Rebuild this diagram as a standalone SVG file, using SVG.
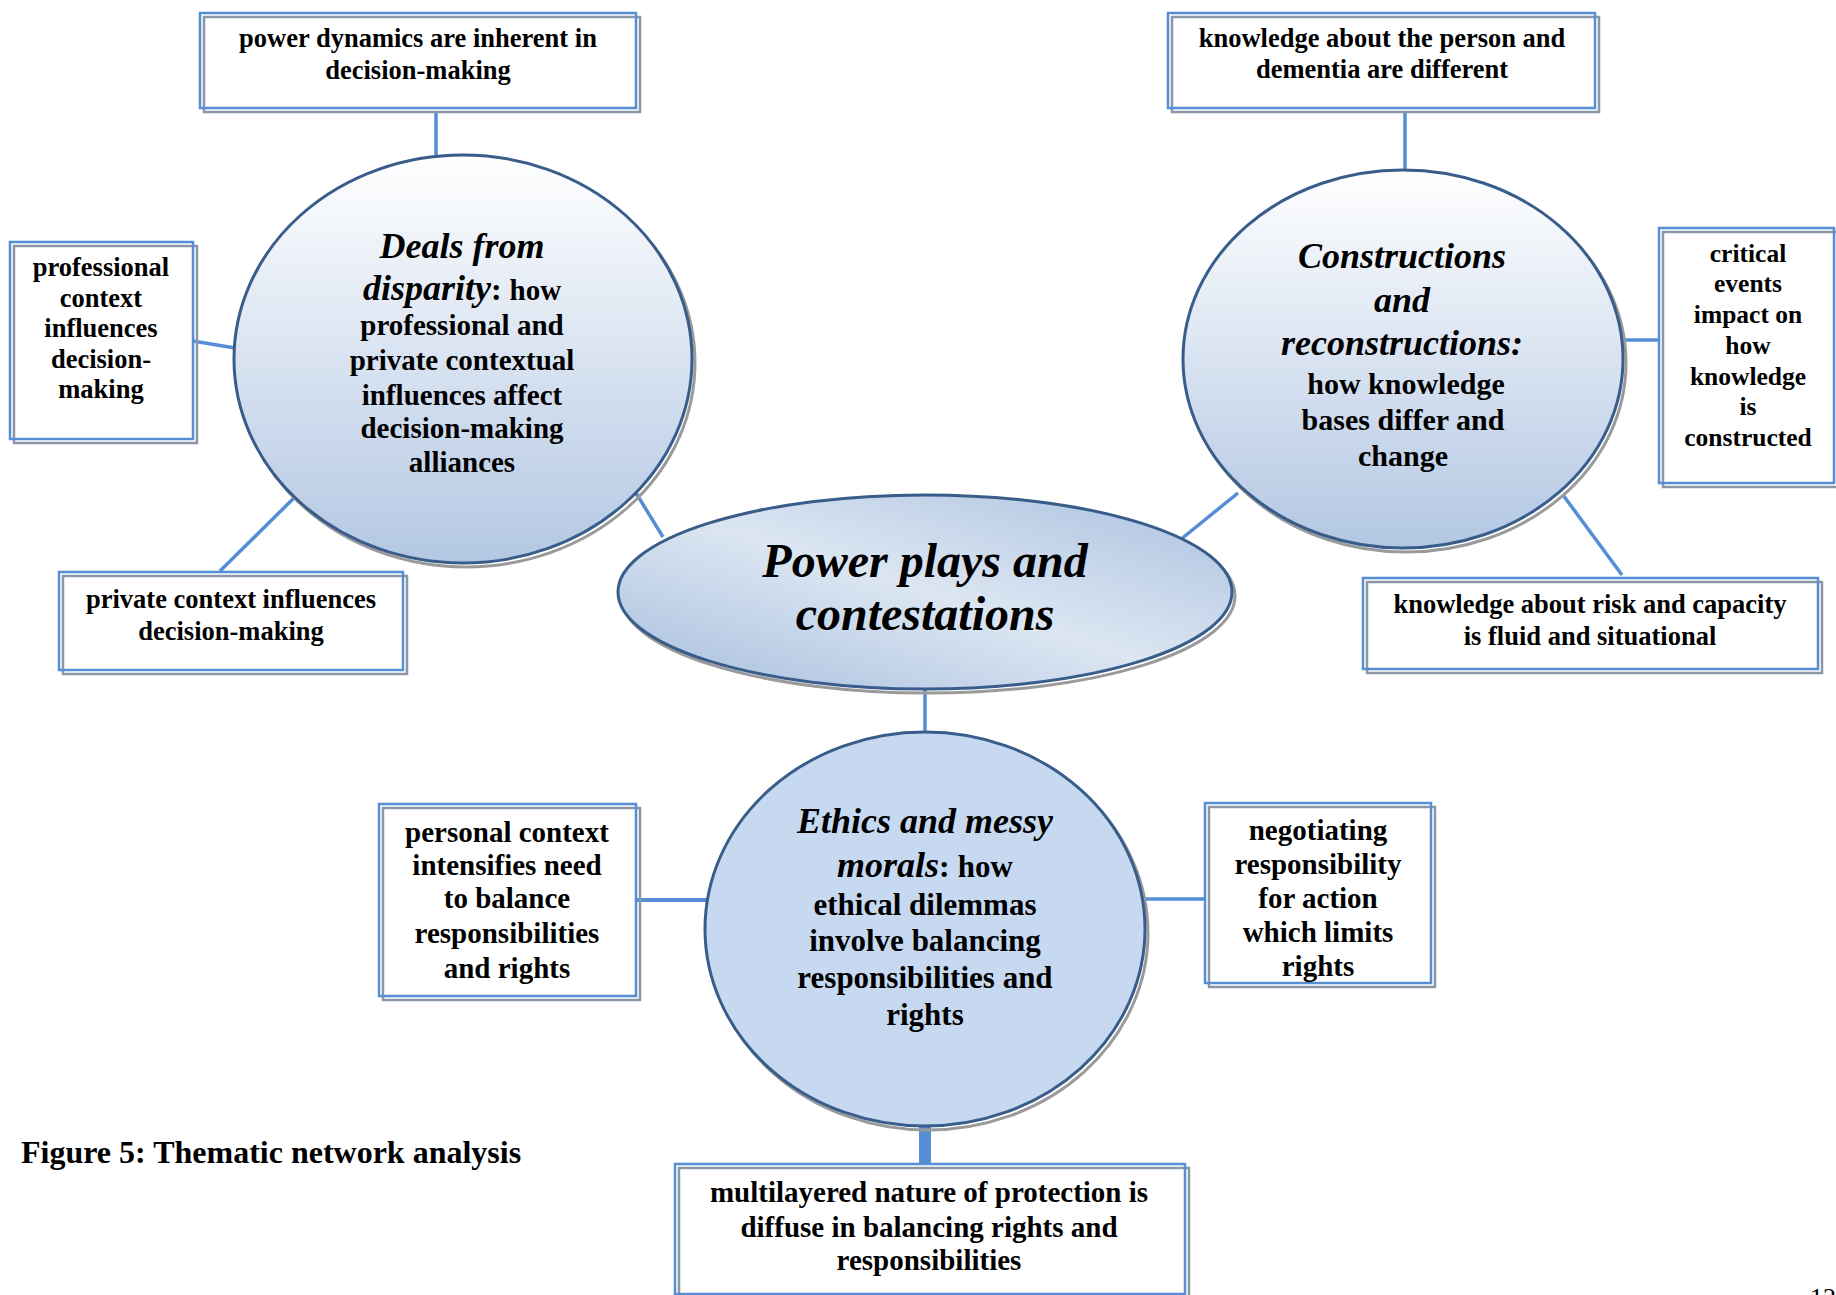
<svg xmlns="http://www.w3.org/2000/svg" width="1836" height="1295" viewBox="0 0 1836 1295">
<style>
text{font-family:"Liberation Serif","Times New Roman",serif;font-weight:bold;fill:#000;text-anchor:middle}
.b26{font-size:26.5px}
.b25{font-size:25.5px}
.b29{font-size:29px}
.b30{font-size:30px}
.it{font-style:italic}
.bxfill{fill:#fff;stroke:none}
.bxsh{fill:none;stroke:#8c97a6;stroke-width:2.5}
.bx{fill:none;stroke:#558ed5;stroke-width:2.5}
.elsh{fill:none;stroke:#9a9a9a;stroke-width:3}
.el{stroke:#385d8a;stroke-width:3}
.con line{stroke:#558ed5;stroke-width:3.5}
</style>
<defs>
<linearGradient id="gv" x1="0" y1="0" x2="0" y2="1">
<stop offset="0" stop-color="#ffffff"/>
<stop offset="1" stop-color="#b3c7e3"/>
</linearGradient>
<linearGradient id="gc" x1="1" y1="0" x2="0" y2="1">
<stop offset="0" stop-color="#a9c0df"/>
<stop offset="0.5" stop-color="#dce6f2"/>
<stop offset="1" stop-color="#a5bddd"/>
</linearGradient>
</defs>
<rect width="1836" height="1295" fill="#fff"/>

<g id="connectors" class="con">
<line x1="436" y1="111" x2="436" y2="156"/>
<line x1="193" y1="341" x2="235" y2="348"/>
<line x1="220" y1="571" x2="299" y2="493"/>
<line x1="636" y1="493" x2="663" y2="537"/>
<line x1="1405" y1="111" x2="1405" y2="170"/>
<line x1="1623" y1="340" x2="1659" y2="340"/>
<line x1="1563" y1="495" x2="1622" y2="575"/>
<line x1="1238" y1="493" x2="1180" y2="540"/>
<line x1="925" y1="689" x2="925" y2="733"/>
<line x1="636" y1="900" x2="707" y2="900" style="stroke-width:4"/>
<line x1="1145" y1="899" x2="1206" y2="899"/>
<line x1="925" y1="1125" x2="925" y2="1164" style="stroke-width:12"/>
</g>

<g id="n-power-dynamics">
<rect class="bxfill" x="200" y="13" width="436" height="95"/>
<rect class="bxsh" x="204" y="17" width="436" height="95"/>
<rect class="bx" x="200" y="13" width="436" height="95"/>
<text class="b26" x="418" y="47">power dynamics are inherent in</text>
<text class="b26" x="418" y="79">decision-making</text>
</g>

<g id="n-professional">
<rect class="bxfill" x="10" y="242" width="183" height="197"/>
<rect class="bxsh" x="14" y="246" width="183" height="197"/>
<rect class="bx" x="10" y="242" width="183" height="197"/>
<text class="b26" x="101" y="276">professional</text>
<text class="b26" x="101" y="307">context</text>
<text class="b26" x="101" y="337">influences</text>
<text class="b26" x="101" y="368">decision-</text>
<text class="b26" x="101" y="398">making</text>
</g>

<g id="n-private">
<rect class="bxfill" x="59" y="572" width="344" height="98"/>
<rect class="bxsh" x="63" y="576" width="344" height="98"/>
<rect class="bx" x="59" y="572" width="344" height="98"/>
<text class="b26" x="231" y="608">private context influences</text>
<text class="b26" x="231" y="640">decision-making</text>
</g>

<g id="n-deals">
<ellipse class="elsh" cx="466" cy="363" rx="229" ry="204"/>
<ellipse class="el" cx="463" cy="359" rx="229" ry="204" fill="url(#gv)"/>
<text x="462" y="258"><tspan class="it" font-size="36">Deals from</tspan></text>
<text x="462" y="300"><tspan class="it" font-size="36">disparity</tspan><tspan font-size="32">: </tspan><tspan font-size="29">how</tspan></text>
<text class="b29" x="462" y="335">professional and</text>
<text class="b29" x="462" y="370">private contextual</text>
<text class="b29" x="462" y="405">influences affect</text>
<text class="b29" x="462" y="438">decision-making</text>
<text class="b29" x="462" y="472">alliances</text>
</g>

<g id="n-knowledge-person">
<rect class="bxfill" x="1168" y="13" width="427" height="95"/>
<rect class="bxsh" x="1172" y="17" width="427" height="95"/>
<rect class="bx" x="1168" y="13" width="427" height="95"/>
<text class="b26" x="1382" y="47">knowledge about the person and</text>
<text class="b26" x="1382" y="78">dementia are different</text>
</g>

<g id="n-constructions">
<ellipse class="elsh" cx="1406" cy="363" rx="220" ry="189"/>
<ellipse class="el" cx="1403" cy="359" rx="220" ry="189" fill="url(#gv)"/>
<text class="it" font-size="36" x="1402" y="268">Constructions</text>
<text class="it" font-size="36" x="1402" y="312">and</text>
<text class="it" font-size="36" x="1402" y="355">reconstructions:</text>
<text class="b30" x="1406" y="394">how knowledge</text>
<text class="b30" x="1403" y="430">bases differ and</text>
<text class="b30" x="1403" y="466">change</text>
</g>

<g id="n-critical">
<rect class="bxfill" x="1659" y="228" width="177" height="255"/>
<rect class="bxsh" x="1663" y="232" width="177" height="255"/>
<rect class="bx" x="1659" y="228" width="175" height="255"/>
<text class="b25" x="1748" y="262">critical</text>
<text class="b25" x="1748" y="292">events</text>
<text class="b25" x="1748" y="323">impact on</text>
<text class="b25" x="1748" y="354">how</text>
<text class="b25" x="1748" y="385">knowledge</text>
<text class="b25" x="1748" y="415">is</text>
<text class="b25" x="1748" y="446">constructed</text>
</g>

<g id="n-risk">
<rect class="bxfill" x="1363" y="578" width="455" height="91"/>
<rect class="bxsh" x="1367" y="582" width="455" height="91"/>
<rect class="bx" x="1363" y="578" width="455" height="91"/>
<text class="b26" x="1590" y="613">knowledge about risk and capacity</text>
<text class="b26" x="1590" y="645">is fluid and situational</text>
</g>

<g id="n-power-plays">
<ellipse class="elsh" cx="928" cy="596" rx="307" ry="97"/>
<ellipse class="el" cx="925" cy="592" rx="307" ry="97" fill="url(#gc)"/>
<text class="it" font-size="48" x="925" y="577">Power plays and</text>
<text class="it" font-size="48" x="925" y="630">contestations</text>
</g>

<g id="n-ethics">
<ellipse class="elsh" cx="928" cy="933" rx="220" ry="197"/>
<ellipse class="el" cx="925" cy="929" rx="220" ry="197" fill="#c6d9f1"/>
<text class="it" font-size="36" x="925" y="833">Ethics and messy</text>
<text x="925" y="877"><tspan class="it" font-size="36">morals</tspan><tspan font-size="32">: </tspan><tspan font-size="31">how</tspan></text>
<text font-size="31" x="925" y="915">ethical dilemmas</text>
<text font-size="31" x="925" y="951">involve balancing</text>
<text font-size="31" x="925" y="988">responsibilities and</text>
<text font-size="31" x="925" y="1025">rights</text>
</g>

<g id="n-personal">
<rect class="bxfill" x="379" y="804" width="257" height="192"/>
<rect class="bxsh" x="383" y="808" width="257" height="192"/>
<rect class="bx" x="379" y="804" width="257" height="192"/>
<text class="b29" x="507" y="842">personal context</text>
<text class="b29" x="507" y="875">intensifies need</text>
<text class="b29" x="507" y="908">to balance</text>
<text class="b29" x="507" y="943">responsibilities</text>
<text class="b29" x="507" y="978">and rights</text>
</g>

<g id="n-negotiating">
<rect class="bxfill" x="1205" y="803" width="226" height="180"/>
<rect class="bxsh" x="1209" y="807" width="226" height="180"/>
<rect class="bx" x="1205" y="803" width="226" height="180"/>
<text class="b29" x="1318" y="840">negotiating</text>
<text class="b29" x="1318" y="874">responsibility</text>
<text class="b29" x="1318" y="908">for action</text>
<text class="b29" x="1318" y="942">which limits</text>
<text class="b29" x="1318" y="976">rights</text>
</g>

<g id="n-multilayered">
<rect class="bxfill" x="675" y="1164" width="510" height="130"/>
<rect class="bxsh" x="679" y="1168" width="510" height="130"/>
<rect class="bx" x="675" y="1164" width="510" height="130"/>
<text class="b29" x="929" y="1202">multilayered nature of protection is</text>
<text class="b29" x="929" y="1237">diffuse in balancing rights and</text>
<text class="b29" x="929" y="1270">responsibilities</text>
</g>

<text font-size="32" x="21" y="1163" style="text-anchor:start">Figure 5: Thematic network analysis</text>
<text font-size="26" x="1810" y="1306" style="text-anchor:start;font-weight:normal">12</text>
</svg>
